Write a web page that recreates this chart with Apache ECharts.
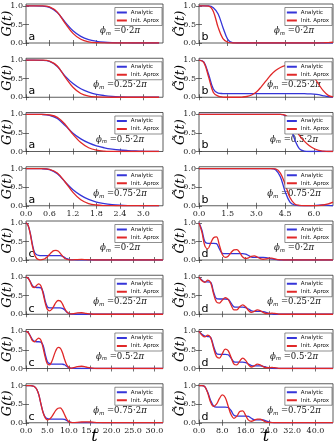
<!DOCTYPE html>
<html><head><meta charset="utf-8">
<script src="https://cdn.jsdelivr.net/npm/echarts@6/dist/echarts.min.js"></script>
<style>html,body{margin:0;padding:0;background:#fff}#c{width:334px;height:446px}</style>
</head><body><div id="c"></div>
<script>
// ---------- time grids ----------
const tA = [0,0.2,0.4,0.6,0.8,1.0,1.2,1.4,1.6,1.8,2.0,2.2,2.4,2.6,2.8,3.0,3.2,3.4];
const tB = [0,0.25,0.5,0.75,1,1.25,1.5,1.75,2,2.25,2.5,2.75,3,3.25,3.5,3.75,4,4.25,4.5,4.75,5,5.25,5.5,5.75,6,6.25,6.5,6.75,7];
const tC = [0,0.5,1,1.5,2,2.5,3,3.5,4,4.5,5,5.5,6,6.5,7,7.5,8,8.5,9,9.5,10,10.5,11,12,13,14,15,16,17,18,19,20,21,22,23,24,25,26,27,28,29,30,31,32];
const tD = [0,1,2,3,4,5,6,7,8,9,10,11,12,13,14,15,16,17,18,19,20,21,22,23,24,25,26,27,28,29,30,31,32,34,36,38,40,42,44,46];

// ---------- tick labels ----------
const xTicksA = [0,0.6,1.2,1.8,2.4,3.0];
const xTicksB = [0,1.5,3.0,4.5,6.0];
const xTicksC = [0,5,10,15,20,25,30];
const xTicksD = [0,8,16,24,32,40];
const yTicks = [0,0.5,1.0];
const phiLabels = ['0','0.25','0.5','0.75'];
const seriesNames = ['Analytic','Init. Aprox'];

// ---------- panel a (left, top block) ----------
const a1An = [1,1,0.995,0.96,0.82,0.56,0.33,0.18,0.09,0.045,0.02,0.008,0.003,0.001,0,0,0,0];
const a1Ap = [1,1,0.998,0.97,0.83,0.53,0.26,0.1,0.03,0.008,0.002,0,0,0,0,0,0,0];
const a2An = [1,1,0.995,0.965,0.83,0.57,0.37,0.23,0.14,0.08,0.045,0.022,0.01,0.004,0.001,0,0,0];
const a2Ap = [1,1,0.998,0.975,0.84,0.54,0.27,0.1,0.03,0.008,0.002,0,0,0,0,0,0,0];
const a3An = [1,1,0.997,0.975,0.89,0.7,0.49,0.34,0.23,0.15,0.1,0.065,0.04,0.025,0.014,0.007,0.003,0.001];
const a3Ap = [1,1,1,0.985,0.92,0.73,0.46,0.24,0.1,0.035,0.01,0.003,0,0,0,0,0,0];
const a4An = [1,1,0.997,0.97,0.86,0.64,0.43,0.28,0.17,0.1,0.055,0.028,0.013,0.005,0.002,0,0,0];
const a4Ap = [1,1,1,0.98,0.88,0.64,0.36,0.16,0.06,0.02,0.005,0.001,0,0,0,0,0,0];

// ---------- panel b (right, top block) ----------
const b1An = [1,1,1,0.95,0.78,0.42,0.1,0.01,0,0,0,0,0,0,0,0,0,0,0,0,0,0,0,0,0,0,0,0,0];
const b1Ap = [1,1,0.99,0.85,0.42,0.12,0.02,0,0,0,0,0,0,0,0,0,0,0,0,0,0,0,0,0,0,0,0.005,0.01,0.02];
const b2An = [1,0.95,0.62,0.22,0.11,0.1,0.095,0.095,0.095,0.095,0.095,0.095,0.095,0.095,0.095,0.095,0.095,0.095,0.095,0.095,0.095,0.095,0.095,0.09,0.085,0.07,0.04,0.015,0.005];
const b2Ap = [1,0.94,0.55,0.13,0.03,0.005,0,0,0,0.005,0.02,0.06,0.14,0.28,0.44,0.6,0.72,0.8,0.85,0.87,0.87,0.86,0.82,0.72,0.55,0.35,0.17,0.05,0.01];
const b3An = [1,1,1,1,1,1,1,1,1,1,1,1,1,1,1,1,1,1,0.96,0.72,0.32,0.07,0.01,0,0,0,0,0,0];
const b3Ap = [1,1,1,1,1,1,1,1,1,1,1,1,1,1,1,1,1,1,0.98,0.86,0.63,0.43,0.28,0.16,0.08,0.03,0.01,0,0];
const b4An = [1,1,1,1,1,1,1,1,1,1,1,1,1,1,1,1,0.97,0.78,0.38,0.1,0.02,0,0,0,0.005,0.015,0.02,0.01,0];
const b4Ap = [1,1,1,1,1,1,1,1,1,1,1,1,1,1,1,1,0.99,0.88,0.58,0.22,0.05,0.01,0,0,0,0.005,0.02,0.05,0.1];

// ---------- panel c (left, bottom block) ----------
const c1An = [1,0.93,0.72,0.42,0.2,0.14,0.125,0.12,0.12,0.12,0.12,0.12,0.12,0.12,0.12,0.12,0.115,0.1,0.07,0.035,0.015,0.005,0.002,0,0,0,0,0,0,0,0,0,0,0,0,0,0,0,0,0,0,0,0,0];
const c1Ap = [1,0.93,0.7,0.38,0.14,0.04,0.01,0.005,0.015,0.04,0.09,0.15,0.21,0.25,0.26,0.24,0.18,0.11,0.05,0.02,0.005,0.002,0.005,0.012,0.015,0.01,0.004,0,0,0,0,0,0,0,0,0,0,0,0,0,0,0,0,0];
const c2An = [1,0.97,0.88,0.77,0.73,0.72,0.72,0.71,0.6,0.35,0.2,0.17,0.17,0.17,0.17,0.17,0.17,0.16,0.12,0.06,0.02,0.008,0.002,0,0,0,0,0,0,0,0,0,0,0,0,0,0,0,0,0,0,0,0,0];
const c2Ap = [1,0.97,0.87,0.74,0.72,0.78,0.82,0.76,0.55,0.3,0.13,0.09,0.13,0.22,0.32,0.37,0.36,0.28,0.16,0.07,0.02,0.01,0.015,0.035,0.04,0.025,0.01,0,0,0,0,0,0,0,0,0,0,0,0,0,0,0,0,0];
const c3An = [1,0.97,0.88,0.78,0.73,0.72,0.72,0.71,0.62,0.38,0.18,0.13,0.12,0.12,0.12,0.12,0.12,0.115,0.1,0.06,0.02,0.008,0.002,0,0,0,0,0,0,0,0,0,0,0,0,0,0,0,0,0,0,0,0,0];
const c3Ap = [1,0.97,0.87,0.75,0.72,0.78,0.82,0.76,0.55,0.3,0.12,0.1,0.18,0.34,0.49,0.57,0.55,0.43,0.25,0.1,0.03,0.01,0.02,0.05,0.06,0.04,0.02,0.005,0,0,0,0,0,0,0,0,0,0,0,0,0,0,0,0];
const c4An = [1,1,1,0.99,0.97,0.9,0.75,0.5,0.28,0.15,0.11,0.1,0.1,0.1,0.1,0.1,0.1,0.1,0.09,0.06,0.025,0.008,0.002,0,0,0,0,0,0,0,0,0,0,0,0,0,0,0,0,0,0,0,0,0];
const c4Ap = [1,1,1,0.99,0.97,0.9,0.75,0.5,0.27,0.13,0.08,0.1,0.16,0.25,0.34,0.39,0.4,0.34,0.22,0.1,0.03,0.01,0.005,0.01,0.02,0.025,0.02,0.01,0.003,0,0,0,0,0,0,0,0,0,0,0,0,0,0,0];

// ---------- panel d (right, bottom block) ----------
const d1An = [1,0.8,0.5,0.45,0.45,0.45,0.44,0.3,0.18,0.17,0.17,0.17,0.17,0.17,0.17,0.17,0.16,0.12,0.08,0.07,0.07,0.07,0.07,0.065,0.05,0.03,0.015,0.005,0,0,0,0,0,0,0,0,0,0,0,0];
const d1Ap = [1,0.75,0.38,0.3,0.45,0.6,0.62,0.4,0.15,0.07,0.1,0.2,0.27,0.28,0.2,0.08,0.04,0.06,0.1,0.11,0.08,0.04,0.02,0.03,0.05,0.05,0.03,0.01,0.005,0,0,0,0,0,0,0,0,0,0,0];
const d2An = [1,0.92,0.87,0.87,0.86,0.6,0.42,0.41,0.41,0.41,0.4,0.3,0.2,0.19,0.19,0.19,0.18,0.14,0.09,0.08,0.08,0.08,0.07,0.05,0.02,0.01,0,0,0,0,0,0,0,0,0,0,0,0,0,0];
const d2Ap = [1,0.9,0.86,0.92,0.85,0.55,0.33,0.3,0.38,0.45,0.4,0.25,0.12,0.12,0.2,0.25,0.2,0.1,0.05,0.08,0.12,0.1,0.05,0.02,0.02,0.03,0.02,0.01,0,0,0,0,0,0,0,0,0,0,0,0];
const d3An = [1,0.92,0.87,0.86,0.84,0.6,0.4,0.38,0.38,0.38,0.37,0.28,0.18,0.17,0.17,0.17,0.16,0.12,0.08,0.07,0.07,0.07,0.06,0.04,0.02,0.01,0,0,0,0,0,0,0,0,0,0,0,0,0,0];
const d3Ap = [1,0.9,0.85,0.9,0.83,0.55,0.32,0.28,0.4,0.52,0.48,0.3,0.12,0.1,0.2,0.28,0.22,0.1,0.04,0.07,0.12,0.1,0.05,0.02,0.02,0.03,0.02,0.01,0,0,0,0,0,0,0,0,0,0,0,0];
const d4An = [1,1,0.97,0.82,0.6,0.45,0.42,0.42,0.42,0.42,0.41,0.33,0.2,0.18,0.18,0.18,0.18,0.17,0.12,0.08,0.08,0.08,0.075,0.05,0.02,0.005,0,0,0,0,0,0,0,0,0,0,0,0,0,0];
const d4Ap = [1,1,0.97,0.8,0.55,0.44,0.5,0.65,0.75,0.68,0.45,0.22,0.12,0.18,0.3,0.32,0.2,0.07,0.04,0.07,0.1,0.1,0.06,0.02,0.01,0.005,0,0,0,0,0,0,0,0,0,0,0,0,0,0];

// ---------- layout ----------
const BLUE = '#3535d8', RED = '#e02828';
const SERIF = 'DejaVu Serif';
const ROW0 = 4, ROWSTEP = 54.25, PH = 39;
const COLS = [{left:26, width:137, letterX:28.5, phiX:120, ylabX:8},
              {left:199, width:134, letterX:201.5, phiX:294, ylabX:181}];
const blocks = [
  {t:tA, ticks:xTicksA, max:3.5, an:[a1An,a2An,a3An,a4An], ap:[a1Ap,a2Ap,a3Ap,a4Ap], letter:'a', col:0, row0:0},
  {t:tB, ticks:xTicksB, max:7.0, an:[b1An,b2An,b3An,b4An], ap:[b1Ap,b2Ap,b3Ap,b4Ap], letter:'b', col:1, row0:0},
  {t:tC, ticks:xTicksC, max:32, an:[c1An,c2An,c3An,c4An], ap:[c1Ap,c2Ap,c3Ap,c4Ap], letter:'c', col:0, row0:4},
  {t:tD, ticks:xTicksD, max:46, an:[d1An,d2An,d3An,d4An], ap:[d1Ap,d2Ap,d3Ap,d4Ap], letter:'d', col:1, row0:4}
];

const option = {animation:false, grid:[], xAxis:[], yAxis:[], series:[], legend:[], graphic:[]};
const tickStyle = {inside:true, length:3, lineStyle:{color:'#333', width:0.7}};
let p = 0;
blocks.forEach(b => {
  const C = COLS[b.col];
  for (let k = 0; k < 4; k++) {
    const row = b.row0 + k;
    const top = ROW0 + row*ROWSTEP;
    const showX = (k === 3);
    option.grid.push({left:C.left, top:top, width:C.width, height:PH, show:true, borderColor:'#333', borderWidth:0.8, backgroundColor:'#fff'});
    option.xAxis.push({type:'value', gridIndex:p, min:0, max:b.max, position:'bottom',
      axisLine:{show:false}, splitLine:{show:false},
      axisTick:Object.assign({customValues:b.ticks}, tickStyle),
      axisLabel:{show:showX, customValues:b.ticks, fontFamily:SERIF, fontSize:8, color:'#222', margin:4,
        formatter:v => Number(v).toFixed(1)}});
    option.xAxis.push({type:'value', gridIndex:p, min:0, max:b.max, position:'top',
      axisLine:{show:false}, splitLine:{show:false},
      axisTick:Object.assign({customValues:b.ticks}, tickStyle), axisLabel:{show:false}});
    option.yAxis.push({type:'value', gridIndex:p, min:0, max:1.05, position:'left',
      axisLine:{show:false}, splitLine:{show:false},
      axisTick:Object.assign({customValues:yTicks}, tickStyle),
      axisLabel:{customValues:yTicks, fontFamily:SERIF, fontSize:8, color:'#222', margin:3,
        formatter:v => Number(v).toFixed(1)}});
    option.yAxis.push({type:'value', gridIndex:p, min:0, max:1.05, position:'right',
      axisLine:{show:false}, splitLine:{show:false},
      axisTick:Object.assign({customValues:yTicks}, tickStyle), axisLabel:{show:false}});
    [[b.an[k], BLUE, seriesNames[0]], [b.ap[k], RED, seriesNames[1]]].forEach(([vals, col, nm]) => {
      option.series.push({type:'line', name:nm, xAxisIndex:2*p, yAxisIndex:2*p,
        data:b.t.map((x,i)=>[x, vals[i]]), showSymbol:false, smooth:0.35,
        lineStyle:{width:1.3, color:col}, itemStyle:{color:col}, clip:true});
    });
    option.legend.push({orient:'vertical', right: 334 - (C.left + C.width) + 1, top: top + 3.5,
      itemWidth:10, itemHeight:2, itemGap:2, padding:[2,3,2,2], icon:'rect', selectedMode:false,
      borderColor:'#444', borderWidth:0.6, backgroundColor:'#fff',
      textStyle:{fontSize:5.5, fontFamily:'DejaVu Sans', color:'#111', padding:[0,0,0,-1]},
      data:seriesNames});
    option.graphic.push({type:'text', x:C.letterX, y:top + (b.row0 ? 33.5 : 33), style:{text:b.letter,
      font:'11px "DejaVu Sans"', fill:'#000', textAlign:'left', textVerticalAlign:'middle'}});
    option.graphic.push({type:'text', x:C.phiX, y:top + 27, style:{
      text:'{i|ϕ}{s|m}{n| =' + phiLabels[k] + '·2}{i|π}',
      textAlign:'center', textVerticalAlign:'middle',
      rich:{i:{fontFamily:SERIF, fontStyle:'italic', fontSize:8.5, fill:'#111', lineHeight:11},
            s:{fontFamily:SERIF, fontStyle:'italic', fontSize:5.5, fill:'#111', verticalAlign:'bottom', lineHeight:11, padding:[3,0,0,0]},
            n:{fontFamily:SERIF, fontSize:8.5, fill:'#111', lineHeight:11}}}});
    option.graphic.push({type:'text', x:C.ylabX, y:top + PH/2, rotation:Math.PI/2, style:{
      text: b.col ? 'G\u0303(t)' : 'G(t)', font:'italic 13px "DejaVu Serif"', fill:'#000',
      textAlign:'center', textVerticalAlign:'middle'}});
    p++;
  }
});
option.graphic.push({type:'text', x:94.5, y:437, style:{text:'t', font:'italic 16px "DejaVu Serif"', fill:'#000', textAlign:'center', textVerticalAlign:'middle'}});
option.graphic.push({type:'text', x:266, y:437, style:{text:'t', font:'italic 16px "DejaVu Serif"', fill:'#000', textAlign:'center', textVerticalAlign:'middle'}});

const chart = echarts.init(document.getElementById('c'), null, {renderer:'canvas'});
chart.setOption(option);
</script>
</body></html>
